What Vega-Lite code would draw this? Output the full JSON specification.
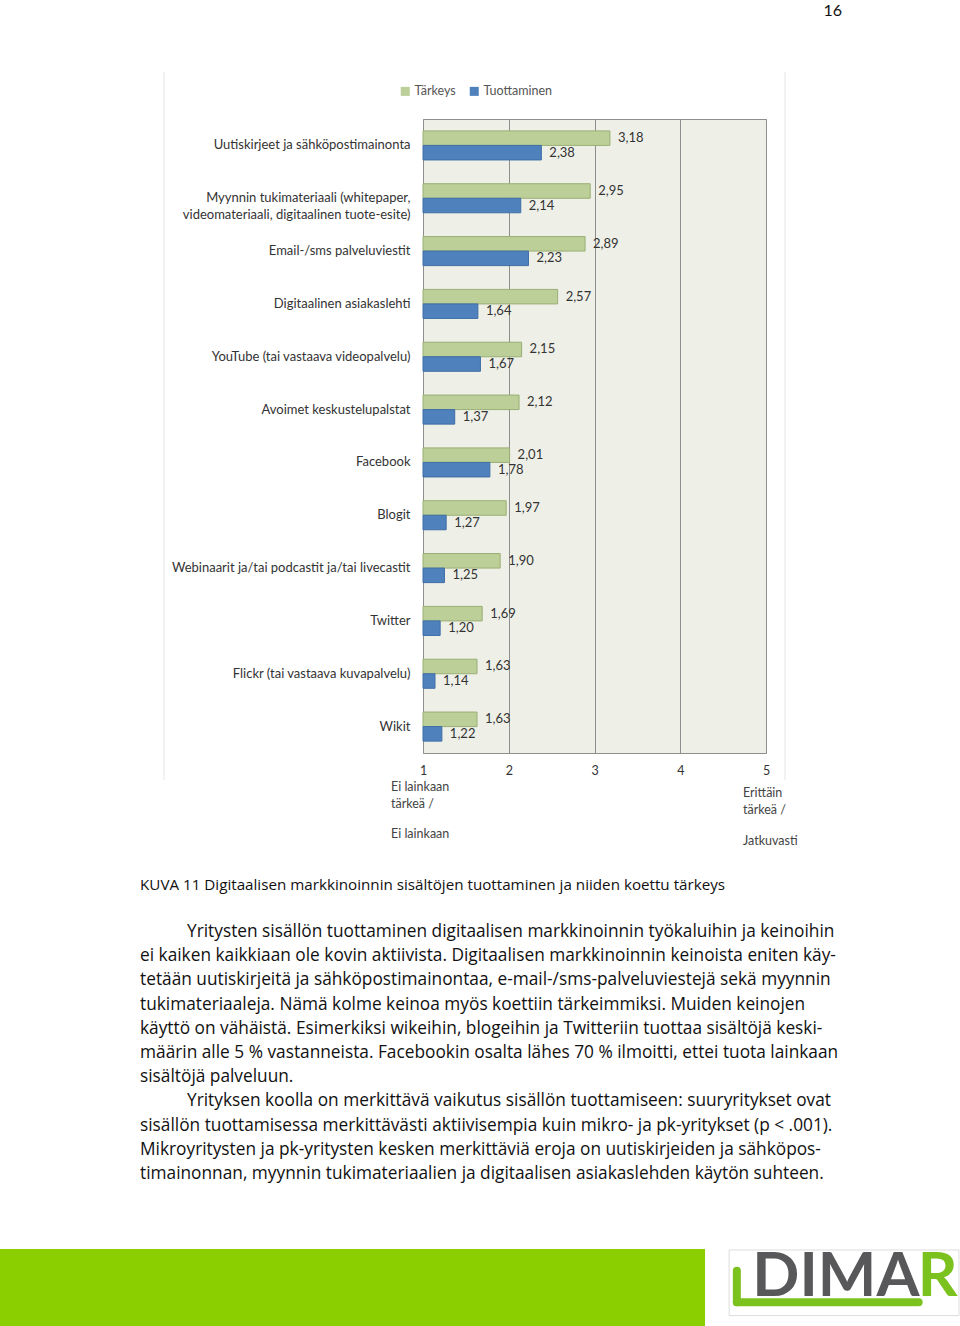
{
  "$schema": "https://vega.github.io/schema/vega-lite/v6.json",
  "autosize": {"type": "none"},
  "width": 343,
  "height": 634,
  "padding": {"left": 423, "top": 119, "right": 194, "bottom": 573},
  "background": "white",
  "config": {
    "font": "Lato",
    "view": {"fill": "#eef0e8", "stroke": "#8e8e8e", "strokeWidth": 1}
  },
  "layer": [
    {
      "data": {
        "values": [
          {"cat": "Uutiskirjeet ja sähköpostimainonta", "series": "Tärkeys", "value": 3.18},
          {"cat": "Uutiskirjeet ja sähköpostimainonta", "series": "Tuottaminen", "value": 2.38},
          {"cat": "Myynnin tukimateriaali (whitepaper,\u00a0\u00a0\u00a0|videomateriaali, digitaalinen tuote-esite)", "series": "Tärkeys", "value": 2.95},
          {"cat": "Myynnin tukimateriaali (whitepaper,\u00a0\u00a0\u00a0|videomateriaali, digitaalinen tuote-esite)", "series": "Tuottaminen", "value": 2.14},
          {"cat": "Email-/sms palveluviestit", "series": "Tärkeys", "value": 2.89},
          {"cat": "Email-/sms palveluviestit", "series": "Tuottaminen", "value": 2.23},
          {"cat": "Digitaalinen asiakaslehti", "series": "Tärkeys", "value": 2.57},
          {"cat": "Digitaalinen asiakaslehti", "series": "Tuottaminen", "value": 1.64},
          {"cat": "YouTube (tai vastaava videopalvelu)", "series": "Tärkeys", "value": 2.15},
          {"cat": "YouTube (tai vastaava videopalvelu)", "series": "Tuottaminen", "value": 1.67},
          {"cat": "Avoimet keskustelupalstat", "series": "Tärkeys", "value": 2.12},
          {"cat": "Avoimet keskustelupalstat", "series": "Tuottaminen", "value": 1.37},
          {"cat": "Facebook", "series": "Tärkeys", "value": 2.01},
          {"cat": "Facebook", "series": "Tuottaminen", "value": 1.78},
          {"cat": "Blogit", "series": "Tärkeys", "value": 1.97},
          {"cat": "Blogit", "series": "Tuottaminen", "value": 1.27},
          {"cat": "Webinaarit ja/tai podcastit ja/tai livecastit", "series": "Tärkeys", "value": 1.90},
          {"cat": "Webinaarit ja/tai podcastit ja/tai livecastit", "series": "Tuottaminen", "value": 1.25},
          {"cat": "Twitter", "series": "Tärkeys", "value": 1.69},
          {"cat": "Twitter", "series": "Tuottaminen", "value": 1.20},
          {"cat": "Flickr (tai vastaava kuvapalvelu)", "series": "Tärkeys", "value": 1.63},
          {"cat": "Flickr (tai vastaava kuvapalvelu)", "series": "Tuottaminen", "value": 1.14},
          {"cat": "Wikit", "series": "Tärkeys", "value": 1.63},
          {"cat": "Wikit", "series": "Tuottaminen", "value": 1.22}
        ]
      },
      "layer": [
        {
          "mark": {"type": "bar", "strokeWidth": 1},
          "encoding": {
            "y": {
              "field": "cat", "type": "nominal", "sort": null,
              "scale": {"paddingInner": 0.45, "paddingOuter": 0.225},
              "axis": {
                "title": null, "labelExpr": "split(datum.label, '|')",
                "labelFontSize": 13, "labelColor": "#333333", "labelPadding": 13,
                "ticks": false, "domain": false, "labelLimit": 400, "labelLineHeight": 16.5
              }
            },
            "yOffset": {"field": "series", "type": "nominal", "sort": ["Tärkeys", "Tuottaminen"]},
            "x": {
              "field": "value", "type": "quantitative",
              "scale": {"domain": [1, 5], "zero": false, "nice": false},
              "axis": {
                "title": null, "values": [1, 2, 3, 4, 5], "format": "d",
                "ticks": false, "domain": false, "grid": true, "gridColor": "#8e8e8e",
                "labelPadding": 11, "labelFontSize": 12.5, "labelColor": "#333333", "labelFlush": false
              }
            },
            "x2": {"datum": 1},
            "color": {
              "field": "series", "type": "nominal",
              "scale": {"domain": ["Tärkeys", "Tuottaminen"], "range": ["#bccf98", "#4f81bd"]},
              "legend": {
                "orient": "none", "legendX": -24, "legendY": -34, "direction": "horizontal",
                "title": null, "symbolType": "square", "symbolSize": 81, "symbolStrokeWidth": 0,
                "labelFontSize": 12.5, "labelColor": "#555555", "columnPadding": 12, "labelOffset": 3
              }
            },
            "stroke": {
              "field": "series", "type": "nominal",
              "scale": {"domain": ["Tärkeys", "Tuottaminen"], "range": ["#9aae74", "#3f6ea6"]},
              "legend": null
            }
          }
        },
        {
          "transform": [{"calculate": "replace(format(datum.value, '.2f'), '.', ',')", "as": "lbl"}],
          "mark": {"type": "text", "align": "left", "baseline": "middle", "dx": 8, "fontSize": 13, "color": "#333333"},
          "encoding": {
            "y": {"field": "cat", "type": "nominal", "sort": null},
            "yOffset": {"field": "series", "type": "nominal", "sort": ["Tärkeys", "Tuottaminen"]},
            "x": {"field": "value", "type": "quantitative"},
            "text": {"field": "lbl"}
          }
        }
      ]
    },
    {
      "layer": [
        {
          "data": {"values": [{"side": "left", "x": -2.02}, {"side": "right", "x": 5.222}]},
          "mark": {"type": "rule", "color": "#e6e6e6", "strokeWidth": 1},
          "encoding": {
            "x": {"field": "x", "type": "quantitative", "scale": {"domain": [1, 5], "zero": false, "nice": false}, "axis": null},
            "y": {"datum": -34.54, "type": "quantitative", "scale": {"domain": [1, 11], "range": [813, 1055], "zero": false, "nice": false}, "axis": null},
            "y2": {"datum": -5.28}
          }
        },
        {
          "data": {"values": [{"t": "16"}]},
          "mark": {"type": "text", "align": "right", "baseline": "middle", "fontSize": 16, "color": "#111111"},
          "encoding": {
            "x": {"datum": 5.886, "type": "quantitative", "scale": {"domain": [1, 5], "zero": false, "nice": false}, "axis": null},
            "y": {"datum": -37.05, "type": "quantitative", "scale": {"domain": [1, 11], "range": [813, 1055], "zero": false, "nice": false}, "axis": null},
            "text": {"field": "t"}
          }
        },
        {
          "data": {"values": [{"t": "KUVA 11 Digitaalisen markkinoinnin sisältöjen tuottaminen ja niiden koettu tärkeys"}]},
          "mark": {"type": "text", "align": "left", "baseline": "middle", "fontSize": 15.2, "color": "#111111", "font": "Open Sans"},
          "encoding": {
            "x": {"datum": -2.3, "type": "quantitative", "scale": {"domain": [1, 5], "zero": false, "nice": false}, "axis": null},
            "y": {"datum": -0.94, "type": "quantitative", "scale": {"domain": [1, 11], "range": [813, 1055], "zero": false, "nice": false}, "axis": null},
            "text": {"field": "t"}
          }
        },
        {
          "data": {"values": [{"t": "Ei lainkaan", "k": 1}, {"t": "tärkeä /", "k": 2}, {"t": "Ei lainkaan", "k": 3}]},
          "transform": [{"calculate": "datum.k == 1 ? -4.99 : datum.k == 2 ? -4.29 : -3.05", "as": "row"}],
          "mark": {"type": "text", "align": "left", "baseline": "middle", "fontSize": 12.5, "color": "#444444"},
          "encoding": {
            "x": {"datum": 0.627, "type": "quantitative", "scale": {"domain": [1, 5], "zero": false, "nice": false}, "axis": null},
            "y": {"field": "row", "type": "quantitative", "scale": {"domain": [1, 11], "range": [813, 1055], "zero": false, "nice": false}, "axis": null},
            "text": {"field": "t"}
          }
        },
        {
          "data": {"values": [{"t": "Erittäin", "k": 1}, {"t": "tärkeä /", "k": 2}, {"t": "Jatkuvasti", "k": 3}]},
          "transform": [{"calculate": "datum.k == 1 ? -4.74 : datum.k == 2 ? -4.04 : -2.76", "as": "row"}],
          "mark": {"type": "text", "align": "left", "baseline": "middle", "fontSize": 12.5, "color": "#444444"},
          "encoding": {
            "x": {"datum": 4.732, "type": "quantitative", "scale": {"domain": [1, 5], "zero": false, "nice": false}, "axis": null},
            "y": {"field": "row", "type": "quantitative", "scale": {"domain": [1, 11], "range": [813, 1055], "zero": false, "nice": false}, "axis": null},
            "text": {"field": "t"}
          }
        },
        {
          "data": {"name": "para", "values": [
            {"line": 1, "indent": true, "t": "Yritysten sisällön tuottaminen digitaalisen markkinoinnin työkaluihin ja keinoihin"},
            {"line": 2, "indent": false, "t": "ei kaiken kaikkiaan ole kovin aktiivista. Digitaalisen markkinoinnin keinoista eniten käy-"},
            {"line": 3, "indent": false, "t": "tetään uutiskirjeitä ja sähköpostimainontaa, e-mail-/sms-palveluviestejä sekä myynnin"},
            {"line": 4, "indent": false, "t": "tukimateriaaleja. Nämä kolme keinoa myös koettiin tärkeimmiksi. Muiden keinojen"},
            {"line": 5, "indent": false, "t": "käyttö on vähäistä. Esimerkiksi wikeihin, blogeihin ja Twitteriin tuottaa sisältöjä keski-"},
            {"line": 6, "indent": false, "t": "määrin alle 5 % vastanneista. Facebookin osalta lähes 70 % ilmoitti, ettei tuota lainkaan"},
            {"line": 7, "indent": false, "t": "sisältöjä palveluun."},
            {"line": 8, "indent": true, "t": "Yrityksen koolla on merkittävä vaikutus sisällön tuottamiseen: suuryritykset ovat"},
            {"line": 9, "indent": false, "t": "sisällön tuottamisessa merkittävästi aktiivisempia kuin mikro- ja pk-yritykset (p < .001)."},
            {"line": 10, "indent": false, "t": "Mikroyritysten ja pk-yritysten kesken merkittäviä eroja on uutiskirjeiden ja sähköpos-"},
            {"line": 11, "indent": false, "t": "timainonnan, myynnin tukimateriaalien ja digitaalisen asiakaslehden käytön suhteen."}
          ]},
          "layer": [
            {
              "transform": [{"filter": "datum.indent"}],
              "mark": {"type": "text", "align": "left", "baseline": "middle", "fontSize": 17.3, "color": "#111111", "font": "Open Sans"},
              "encoding": {
                "x": {"datum": -1.752, "type": "quantitative", "scale": {"domain": [1, 5], "zero": false, "nice": false}, "axis": null},
                "y": {"field": "line", "type": "quantitative", "scale": {"domain": [1, 11], "range": [813, 1055], "zero": false, "nice": false}, "axis": null},
                "text": {"field": "t"}
              }
            },
            {
              "transform": [{"filter": "!datum.indent"}],
              "mark": {"type": "text", "align": "left", "baseline": "middle", "fontSize": 17.3, "color": "#111111", "font": "Open Sans"},
              "encoding": {
                "x": {"datum": -2.3, "type": "quantitative", "scale": {"domain": [1, 5], "zero": false, "nice": false}, "axis": null},
                "y": {"field": "line", "type": "quantitative", "scale": {"domain": [1, 11], "range": [813, 1055], "zero": false, "nice": false}, "axis": null},
                "text": {"field": "t"}
              }
            }
          ]
        },
        {
          "data": {"values": [{"part": "footer"}]},
          "mark": {"type": "rect", "color": "#8ccf00"},
          "encoding": {
            "x": {"datum": -3.94, "type": "quantitative", "scale": {"domain": [1, 5], "zero": false, "nice": false}, "axis": null},
            "x2": {"datum": 4.289},
            "y": {"datum": 14.1, "type": "quantitative", "scale": {"domain": [1, 11], "range": [813, 1055], "zero": false, "nice": false}, "axis": null},
            "y2": {"datum": 17.4}
          }
        },
        {
          "data": {"values": [{"part": "logo"}]},
          "mark": {"type": "rect", "fill": "white", "stroke": "#dddddd", "strokeWidth": 1},
          "encoding": {
            "x": {"datum": 4.57, "type": "quantitative", "scale": {"domain": [1, 5], "zero": false, "nice": false}, "axis": null},
            "x2": {"datum": 7.25},
            "y": {"datum": 14.14, "type": "quantitative", "scale": {"domain": [1, 11], "range": [813, 1055], "zero": false, "nice": false}, "axis": null},
            "y2": {"datum": 16.85}
          }
        },
        {
          "data": {"values": [{"part": "swoosh"}]},
          "mark": {"type": "rule", "color": "#7cc21f", "strokeWidth": 8, "strokeCap": "round"},
          "encoding": {
            "x": {"datum": 4.66, "type": "quantitative", "scale": {"domain": [1, 5], "zero": false, "nice": false}, "axis": null},
            "x2": {"datum": 6.78},
            "y": {"datum": 16.3, "type": "quantitative", "scale": {"domain": [1, 11], "range": [813, 1055], "zero": false, "nice": false}, "axis": null}
          }
        },
        {
          "data": {"values": [{"part": "swoosh-left"}]},
          "mark": {"type": "rule", "color": "#7cc21f", "strokeWidth": 8, "strokeCap": "round"},
          "encoding": {
            "x": {"datum": 4.66, "type": "quantitative", "scale": {"domain": [1, 5], "zero": false, "nice": false}, "axis": null},
            "y": {"datum": 15.0, "type": "quantitative", "scale": {"domain": [1, 11], "range": [813, 1055], "zero": false, "nice": false}, "axis": null},
            "y2": {"datum": 16.3}
          }
        },
        {
          "data": {"values": [{"t": "DIMA"}]},
          "mark": {"type": "text", "align": "left", "baseline": "middle", "fontSize": 62, "fontWeight": "bold", "color": "#58585a"},
          "encoding": {
            "x": {"datum": 4.84, "type": "quantitative", "scale": {"domain": [1, 5], "zero": false, "nice": false}, "axis": null},
            "y": {"datum": 15.25, "type": "quantitative", "scale": {"domain": [1, 11], "range": [813, 1055], "zero": false, "nice": false}, "axis": null},
            "text": {"field": "t"}
          }
        },
        {
          "data": {"values": [{"t": "R"}]},
          "mark": {"type": "text", "align": "left", "baseline": "middle", "fontSize": 62, "fontWeight": "bold", "color": "#7cc21f"},
          "encoding": {
            "x": {"datum": 6.77, "type": "quantitative", "scale": {"domain": [1, 5], "zero": false, "nice": false}, "axis": null},
            "y": {"datum": 15.25, "type": "quantitative", "scale": {"domain": [1, 11], "range": [813, 1055], "zero": false, "nice": false}, "axis": null},
            "text": {"field": "t"}
          }
        }
      ]
    }
  ],
  "resolve": {
    "scale": {"x": "independent", "y": "independent", "color": "independent", "stroke": "independent"},
    "axis": {"x": "independent", "y": "independent"}
  }
}
